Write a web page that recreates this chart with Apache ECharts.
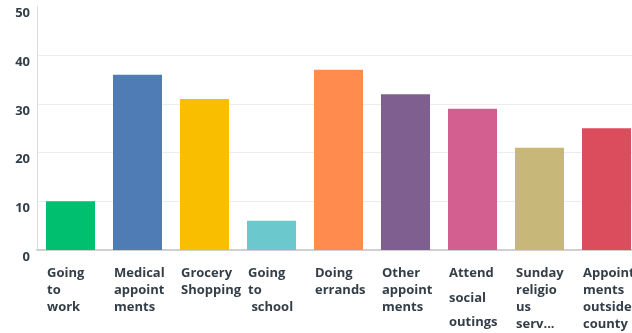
<!DOCTYPE html>
<html>
<head>
<meta charset="utf-8">
<script src="https://cdn.jsdelivr.net/npm/echarts@6/dist/echarts.min.js"></script>
<style>
  html, body { margin: 0; padding: 0; background: #fff; }
  #chart { width: 632px; height: 333px; }
</style>
</head>
<body>
<div id="chart"></div>
<script>
// Trip purposes and number of responses
const categories = [
  'Going\nto\nwork',
  'Medical\nappoint\nments',
  'Grocery\nShopping',
  'Going\nto\n school',
  'Doing\nerrands',
  'Other\nappoint\nments',
  'Attend\nsocial\noutings',
  'Sunday\nreligio\nus\nserv...',
  'Appoint\nments\noutside\ncounty'
];
const responses = [10, 36, 31, 6, 37, 32, 29, 21, 25];
const barColors = ['#00bf6f', '#507cb6', '#f9be00', '#6bc8cd', '#ff8b4f',
                   '#7f5f90', '#d25f90', '#c7b879', '#db4d5c'];
const yTicks = [0, 10, 20, 30, 40, 50];

const chart = echarts.init(document.getElementById('chart'), null, { renderer: 'canvas' });

const labelFont = {
  fontFamily: '"Open Sans", sans-serif',
  fontWeight: 'bold',
  fontSize: 13,
  color: '#333e48'
};

// the "Attend social outings" label is spaced more loosely than the others
const looseStyles = ['l1', 'l2', 'l3'];
function looseLabel(v) {
  return v.split('\n').map((line, k) => '{' + looseStyles[k] + '|' + line + '}').join('\n');
}

chart.setOption({
  animation: false,
  grid: { left: 37, right: -8, top: 6.5, bottom: 83, containLabel: false, outerBoundsMode: 'none' },
  xAxis: {
    type: 'category',
    data: categories,
    axisLine: { show: true, lineStyle: { color: '#d0d0d0', width: 2 } },
    axisTick: { show: false },
    axisLabel: {
      interval: 0,
      align: 'left',
      verticalAlign: 'top',
      margin: 15,
      padding: [0, 0, 0, -23.5],
      formatter: (v, i) => (i === 6 ? looseLabel(v) : v),
      lineHeight: 17,
      rich: {
        l1: Object.assign({ lineHeight: 17 }, labelFont),
        l2: Object.assign({ lineHeight: 32 }, labelFont),
        l3: Object.assign({ lineHeight: 17 }, labelFont)
      },
      ...labelFont
    }
  },
  yAxis: {
    type: 'value',
    min: yTicks[0],
    max: yTicks[yTicks.length - 1],
    interval: 10,
    axisLine: { show: true, lineStyle: { color: '#dcdcdc', width: 1 } },
    axisTick: { show: false },
    splitLine: { show: true, showMaxLine: false, lineStyle: { color: '#ececec', width: 1 } },
    axisLabel: {
      margin: 7,
      verticalAlign: 'top',
      lineHeight: 14,
      ...labelFont
    }
  },
  series: [{
    type: 'bar',
    barWidth: 49,
    data: responses.map((v, i) => ({ value: v, itemStyle: { color: barColors[i] } }))
  }]
});
</script>
</body>
</html>
